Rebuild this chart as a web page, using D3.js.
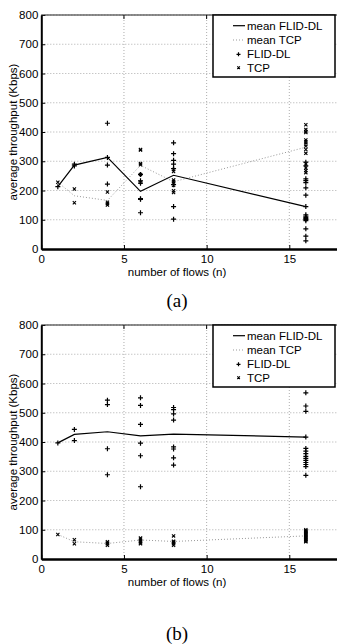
<!DOCTYPE html>
<html><head><meta charset="utf-8">
<script src="https://cdn.jsdelivr.net/npm/d3@7"></script>
<style>body{margin:0;background:#fff}svg{display:block}</style>
</head><body>
<script>
const nValues = [1, 2, 4, 6, 8, 16];
const xTicks = [0, 5, 10, 15];
const yTicks = [0, 100, 200, 300, 400, 500, 600, 700, 800];
const legendLabels = ["mean FLID-DL", "mean TCP", "FLID-DL", "TCP"];
const panelLabels = ["(a)", "(b)"];

// panel (a)
const meanFlidA = [213, 287, 313, 197, 252, 145];
const meanTcpA = [228, 182, 166, 286, 230, 348];
const flidA = [[213], [290, 284], [430, 313, 287, 222], [255, 233, 225, 172, 170, 124],
  [363, 326, 303, 290, 275, 220, 145, 102],
  [297, 284, 240, 234, 227, 209, 184, 145, 117, 112, 108, 104, 101, 97, 69, 44, 28]];
const tcpA = [[228], [205, 158], [195, 160, 155, 150], [340, 338, 292, 288, 255, 228],
  [272, 265, 236, 231, 225, 218, 199, 193],
  [425, 409, 402, 398, 373, 366, 359, 352, 340, 327, 291, 277, 268, 261]];

// panel (b)
const meanFlidB = [397, 426, 435, 421, 427, 417];
const meanTcpB = [84, 59, 53, 65, 60, 79];
const flidB = [[397], [443, 405], [543, 528, 377, 288], [551, 525, 460, 396, 353, 247],
  [518, 511, 496, 475, 383, 376, 346, 321],
  [568, 523, 505, 417, 378, 369, 360, 351, 344, 337, 330, 323, 316, 286]];
const tcpB = [[84], [66, 52], [59, 52, 47, 55], [72, 68, 59, 52, 62, 55],
  [79, 61, 52, 47, 56, 58],
  [100, 97, 94, 91, 88, 85, 82, 79, 76, 73, 70, 67, 64, 61, 59, 95]];

const W = 337, H = 644;
const svg = d3.select("body").append("svg").attr("width", W).attr("height", H);
const font = "'Liberation Sans', Arial, sans-serif";

function panel(top, meanFlid, meanTcp, flid, tcp, label) {
  const x = d3.scaleLinear().domain([0, 18]).range([41.3, 338.9]);
  const y = d3.scaleLinear().domain([0, 800]).range([top + 234, top]);
  const g = svg.append("g");

  // grid
  g.selectAll(".gx").data(xTicks.slice(1)).join("line")
    .attr("x1", d => x(d)).attr("x2", d => x(d)).attr("y1", y(0)).attr("y2", y(800))
    .attr("stroke", "#999").attr("stroke-width", 0.8).attr("stroke-dasharray", "1,2");
  g.selectAll(".gy").data(yTicks.slice(1)).join("line")
    .attr("x1", x(0)).attr("x2", x(18)).attr("y1", d => y(d)).attr("y2", d => y(d))
    .attr("stroke", "#999").attr("stroke-width", 0.8).attr("stroke-dasharray", "1,2");

  // axes
  const ax = g.append("g").attr("transform", `translate(0,${y(0)})`)
    .call(d3.axisBottom(x).tickValues(xTicks).tickSize(-4).tickPadding(6).tickSizeOuter(0));
  const ay = g.append("g").attr("transform", `translate(${x(0)},0)`)
    .call(d3.axisLeft(y).tickValues(yTicks).tickSize(-4).tickPadding(3).tickSizeOuter(0));
  [ax, ay].forEach(a => {
    a.selectAll("text").attr("font-family", font).attr("font-size", 11.5).attr("fill", "#000");
    a.selectAll("line").attr("stroke", "#000");
  });
  ax.select(".domain").attr("stroke", "#000").attr("stroke-width", 2.4);
  ay.select(".domain").attr("stroke", "#000").attr("stroke-width", 2);
  // top border with ticks
  g.append("line").attr("x1", x(0)).attr("x2", x(18)).attr("y1", y(800)).attr("y2", y(800))
    .attr("stroke", "#222").attr("stroke-width", 1.2);
  g.selectAll(".tt").data(xTicks.slice(1)).join("line")
    .attr("x1", d => x(d)).attr("x2", d => x(d)).attr("y1", y(800)).attr("y2", y(800) + 4)
    .attr("stroke", "#000");

  // mean lines
  const line = d3.line().x((d, i) => x(nValues[i])).y(d => y(d));
  g.append("path").datum(meanTcp).attr("d", line).attr("fill", "none")
    .attr("stroke", "#999").attr("stroke-width", 1).attr("stroke-dasharray", "1,2");
  g.append("path").datum(meanFlid).attr("d", line).attr("fill", "none")
    .attr("stroke", "#000").attr("stroke-width", 1.2);

  // points
  const plus = [], cross = [];
  flid.forEach((arr, i) => arr.forEach(v => plus.push([nValues[i], v])));
  tcp.forEach((arr, i) => arr.forEach(v => cross.push([nValues[i], v])));
  g.selectAll(".p").data(plus).join("path")
    .attr("d", d => { const cx = x(d[0]), cy = y(d[1]); return `M${cx - 2.5},${cy}h5M${cx},${cy - 2.5}v5`; })
    .attr("stroke", "#000").attr("stroke-width", 1.2);
  g.selectAll(".c").data(cross).join("path")
    .attr("d", d => { const cx = x(d[0]), cy = y(d[1]); return `M${cx - 1.6},${cy - 1.6}l3.2,3.2M${cx - 1.6},${cy + 1.6}l3.2,-3.2`; })
    .attr("stroke", "#000").attr("stroke-width", 1.1);

  // legend
  const lg = g.append("g").attr("transform", `translate(213,${top})`);
  lg.append("rect").attr("width", 122).attr("height", 62).attr("fill", "#fff")
    .attr("stroke", "#000").attr("stroke-width", 1.5);
  const rows = [10.7, 25, 39.3, 52.7];
  lg.selectAll("text").data(legendLabels).join("text")
    .attr("x", 34).attr("y", (d, i) => rows[i]).attr("dy", "0.35em")
    .attr("font-family", font).attr("font-size", 11.5).text(d => d);
  lg.append("line").attr("x1", 20).attr("x2", 32).attr("y1", rows[0]).attr("y2", rows[0])
    .attr("stroke", "#000").attr("stroke-width", 1.2);
  lg.append("line").attr("x1", 20).attr("x2", 32).attr("y1", rows[1]).attr("y2", rows[1])
    .attr("stroke", "#999").attr("stroke-dasharray", "1,2");
  lg.append("path").attr("d", `M23.5,${rows[2]}h4M25.5,${rows[2] - 2}v4`).attr("stroke", "#000").attr("stroke-width", 1.2);
  lg.append("path").attr("d", `M24.3,${rows[3] - 1.3}l2.6,2.6M24.3,${rows[3] + 1.3}l2.6,-2.6`).attr("stroke", "#000").attr("stroke-width", 1.1);

  // axis labels
  g.append("text").attr("x", 177).attr("y", y(0) + 27).attr("text-anchor", "middle")
    .attr("font-family", font).attr("font-size", 11.5).text("number of flows (n)");
  g.append("text").attr("transform", `translate(13,${top + 117}) rotate(-90)`)
    .attr("text-anchor", "middle").attr("dy", "0.35em")
    .attr("font-family", font).attr("font-size", 11.5).text("average throughput (Kbps)");
  return { g, y };
}

const pa = panel(15, meanFlidA, meanTcpA, flidA, tcpA);
const pb = panel(325, meanFlidB, meanTcpB, flidB, tcpB);

svg.append("text").attr("x", 177).attr("y", 300).attr("dy", "0.35em").attr("text-anchor", "middle")
  .attr("font-family", "'Liberation Serif', 'DejaVu Serif', serif").attr("font-size", 19).text(panelLabels[0]);
svg.append("text").attr("x", 177).attr("y", 633).attr("dy", "0.35em").attr("text-anchor", "middle")
  .attr("font-family", "'Liberation Serif', 'DejaVu Serif', serif").attr("font-size", 19).text(panelLabels[1]);
</script>
</body></html>
